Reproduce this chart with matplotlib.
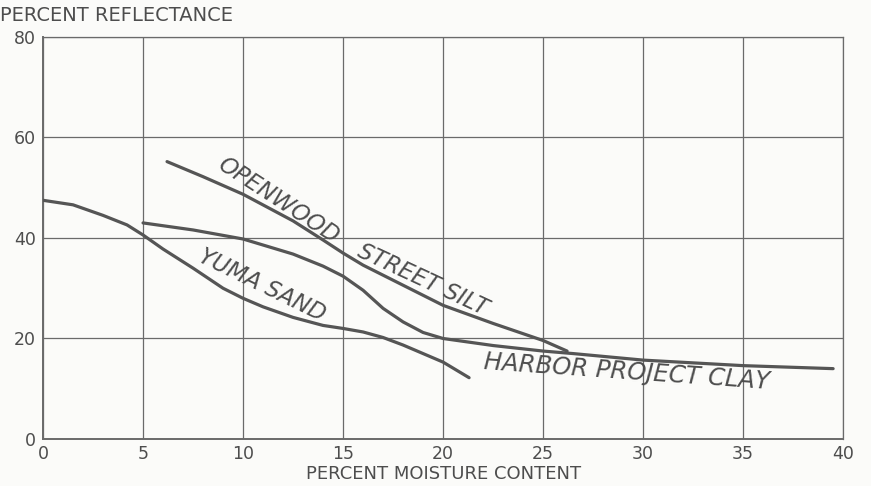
import matplotlib
matplotlib.use("Agg")
import matplotlib.pyplot as plt

# Percent moisture content vs. percent reflectance for three soils
yuma_x = [0, 1.5, 3, 4.2, 5, 6, 7.5, 9, 10, 11, 12.5, 14, 15, 16, 17, 18, 19, 20, 21.3]
yuma_y = [47.5, 46.6, 44.5, 42.6, 40.6, 37.8, 34.0, 30.0, 28.0, 26.3, 24.2, 22.6, 22.0, 21.3, 20.2, 18.7, 17.0, 15.3, 12.2]

harbor_x = [5, 7.5, 10, 12.5, 14, 15, 16, 17, 18, 19, 20, 22.5, 25, 26.5, 30, 35, 39.5]
harbor_y = [43.0, 41.6, 39.8, 36.8, 34.4, 32.4, 29.6, 26.0, 23.3, 21.2, 20.0, 18.6, 17.5, 17.0, 15.7, 14.6, 14.0]

openwood_x = [6.2, 8, 10, 12.5, 14, 15, 16, 17.5, 20, 22.5, 25, 26.2]
openwood_y = [55.2, 52.2, 48.7, 43.4, 39.6, 37.0, 34.6, 31.6, 26.6, 23.0, 19.6, 17.5]

x_ticks = [0, 5, 10, 15, 20, 25, 30, 35, 40]
y_ticks = [0, 20, 40, 60, 80]

ink = "#4d4d4d"
grid_ink = "#6a6a6a"
paper = "#fbfbf9"

fig = plt.figure(figsize=(8.71, 4.86), dpi=100, facecolor=paper)
ax = fig.add_axes([0.0494, 0.0967, 0.9186, 0.8272], facecolor=paper)

for xs, ys in [(yuma_x, yuma_y), (harbor_x, harbor_y), (openwood_x, openwood_y)]:
    ax.plot(xs, ys, color="#555555", lw=2.3, solid_capstyle="round", zorder=3)

ax.set_xlim(0, 40)
ax.set_ylim(0, 80)
ax.set_xticks(x_ticks)
ax.set_yticks(y_ticks)
ax.grid(True, color=grid_ink, lw=0.9)
ax.tick_params(length=0, labelsize=12.5, labelcolor=ink)
ax.tick_params(axis="x", pad=4)
ax.tick_params(axis="y", pad=5)
for sp in ax.spines.values():
    sp.set_color(grid_ink)
    sp.set_linewidth(0.9)
ax.spines["left"].set_linewidth(1.4)
ax.spines["bottom"].set_linewidth(1.4)

fig.text(0.0, 0.968, "PERCENT REFLECTANCE", fontsize=14, color=ink, ha="left", va="center")
fig.text(0.509, 0.025, "PERCENT MOISTURE CONTENT", fontsize=13, color=ink, ha="center", va="center")

label_kw = dict(fontsize=16.5, color=ink, style="italic", ha="center", va="center", zorder=4)
ax.text(11.75, 47.4, "OPENWOOD", rotation=-33, **label_kw)
ax.text(19.0, 31.6, "STREET SILT", rotation=-25, **label_kw)
ax.text(10.95, 30.6, "YUMA SAND", rotation=-26, **label_kw)
ax.text(29.2, 13.3, "HARBOR PROJECT CLAY", rotation=-4, fontsize=17.5,
        color=ink, style="italic", ha="center", va="center", zorder=4)

fig.savefig("out.png", dpi=100, facecolor=paper)
